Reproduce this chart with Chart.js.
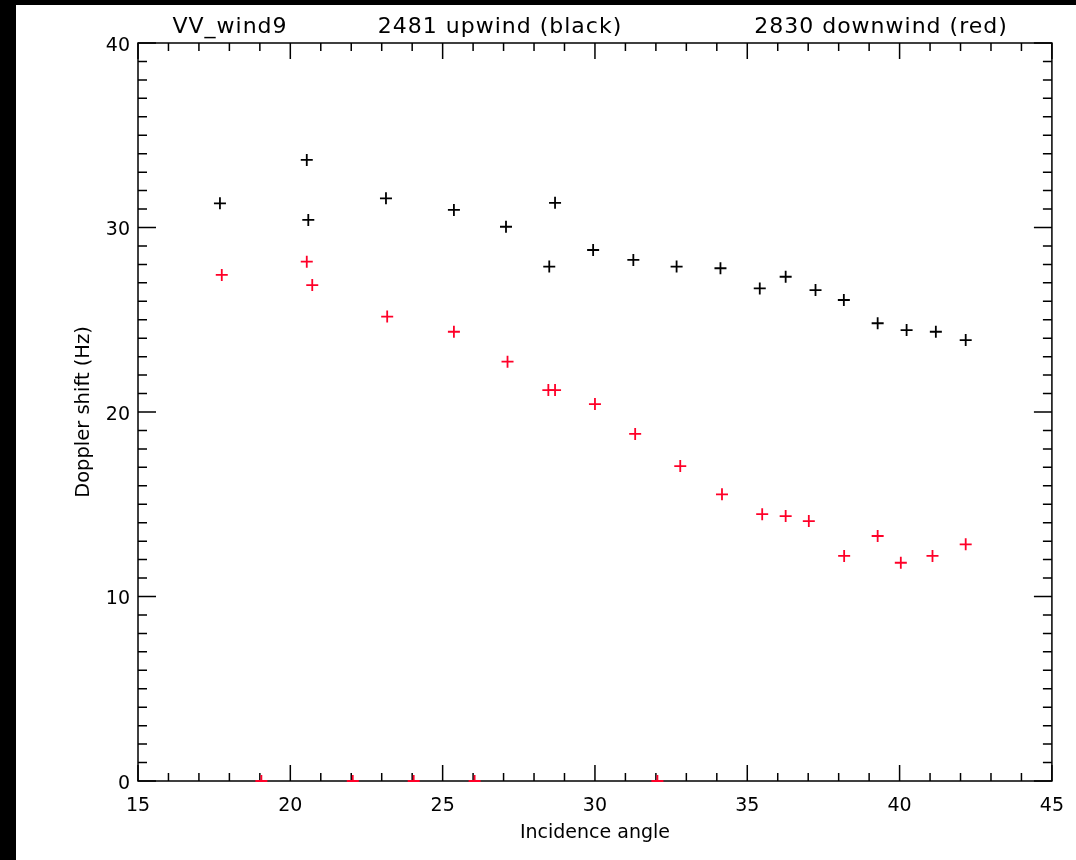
<!DOCTYPE html>
<html>
<head>
<meta charset="utf-8">
<script src="https://cdn.jsdelivr.net/npm/chart.js@4"></script>
<style>
  html, body { margin: 0; padding: 0; background: #000; }
</style>
</head>
<body>
<canvas id="dopplerChart" width="1076" height="860"></canvas>
<script>
// upwind, black crosses
const upwindAngle = [17.69, 20.54, 20.59, 23.14, 25.37, 27.08, 28.69, 28.50, 29.94, 31.26,
                     32.68, 34.12, 35.41, 36.26, 37.24, 38.17, 39.28, 40.23, 41.19, 42.17];
const upwindShift = [31.31, 33.66, 30.41, 31.58, 30.95, 30.04, 31.34, 27.88, 28.78, 28.24,
                     27.88, 27.79, 26.70, 27.33, 26.61, 26.07, 24.81, 24.44, 24.35, 23.90];

// downwind, red crosses (the zeros sit on the x axis)
const downwindAngle = [17.75, 20.54, 20.72, 23.18, 25.37, 27.13, 28.47, 28.69, 30.00, 31.32,
                       32.80, 34.17, 35.49, 36.26, 37.02, 38.18, 39.28, 40.04, 41.08, 42.17,
                       19.05, 22.05, 24.05, 26.05, 32.05];
const downwindShift = [27.43, 28.15, 26.88, 25.17, 24.35, 22.73, 21.19, 21.19, 20.43, 18.81,
                       17.07, 15.54, 14.46, 14.36, 14.09, 12.20, 13.28, 11.83, 12.20, 12.83,
                       0, 0, 0, 0, 0];

const xTicks = [15, 20, 25, 30, 35, 40, 45];
const yTicks = [0, 10, 20, 30, 40];
const titleParts = ['VV_wind9', '2481 upwind (black)', '2830 downwind (red)'];
const titleCenters = [230, 500, 881];

const FONT = 'DejaVu Sans';
const RED = 'rgb(255,0,40)';

function toPoints(xs, ys) {
  return xs.map((v, i) => ({ x: v, y: ys[i] }));
}

// black border, white page, axis box with inward ticks, header line
const framePlugin = {
  id: 'frame',
  beforeDraw(chart) {
    const ctx = chart.ctx;
    ctx.save();
    ctx.fillStyle = '#000';
    ctx.fillRect(0, 0, chart.width, chart.height);
    ctx.fillStyle = '#fff';
    ctx.fillRect(16, 5, chart.width - 16, chart.height - 5);
    ctx.restore();
  },
  beforeDatasetsDraw(chart) {
    const { ctx, chartArea: a, scales: { x, y } } = chart;
    ctx.save();
    ctx.strokeStyle = '#000';
    ctx.lineWidth = 1.5;
    ctx.strokeRect(a.left, a.top, a.right - a.left, a.bottom - a.top);
    ctx.beginPath();
    for (let v = x.min; v <= x.max; v++) {
      const px = x.getPixelForValue(v);
      const len = v % 5 === 0 ? 16 : 8;
      ctx.moveTo(px, a.bottom); ctx.lineTo(px, a.bottom - len);
      ctx.moveTo(px, a.top); ctx.lineTo(px, a.top + len);
    }
    for (let v = y.min; v <= y.max; v++) {
      const py = y.getPixelForValue(v);
      const len = v % 10 === 0 ? 18 : 9;
      ctx.moveTo(a.left, py); ctx.lineTo(a.left + len, py);
      ctx.moveTo(a.right, py); ctx.lineTo(a.right - len, py);
    }
    ctx.stroke();

    ctx.fillStyle = '#000';
    ctx.font = '22px "' + FONT + '"';
    ctx.textAlign = 'center';
    ctx.textBaseline = 'alphabetic';
    ctx.letterSpacing = '1px';
    titleParts.forEach((t, i) => ctx.fillText(t, titleCenters[i], 33));
    ctx.restore();
  }
};

const ctx = document.getElementById('dopplerChart').getContext('2d');
const dopplerChart = new Chart(ctx, {
  type: 'scatter',
  data: {
    datasets: [{
      label: 'upwind',
      data: toPoints(upwindAngle, upwindShift),
      pointStyle: 'cross',
      pointRadius: 6,
      pointBorderWidth: 1.8,
      pointBorderColor: '#000',
      borderColor: '#000',
      clip: { left: 0, top: 0, right: 0, bottom: 1 }
    },
    {
      label: 'downwind',
      data: toPoints(downwindAngle, downwindShift),
      pointStyle: 'cross',
      pointRadius: 6,
      pointBorderWidth: 1.8,
      pointBorderColor: RED,
      borderColor: RED,
      clip: { left: 0, top: 0, right: 0, bottom: 1 }
    }]
  },
  options: {
    responsive: false,
    devicePixelRatio: 1,
    animation: false,
    events: [],
    layout: { padding: { left: 16, top: 43, right: 24, bottom: 0 } },
    plugins: {
      legend: { display: false },
      tooltip: { enabled: false }
    },
    scales: {
      x: {
        type: 'linear',
        min: 15,
        max: 45,
        afterBuildTicks: s => { s.ticks = xTicks.map(v => ({ value: v })); },
        afterFit: s => { s.height = 79; },
        grid: { display: false, drawTicks: false },
        border: { display: false },
        ticks: {
          color: '#000',
          font: { family: FONT, size: 19, lineHeight: 1.4 },
          padding: 12,
          maxRotation: 0,
          autoSkip: false
        },
        title: {
          display: true,
          text: 'Incidence angle',
          color: '#000',
          font: { family: FONT, size: 19 },
          padding: { top: 0, bottom: 16 }
        }
      },
      y: {
        type: 'linear',
        min: 0,
        max: 40,
        afterBuildTicks: s => { s.ticks = yTicks.map(v => ({ value: v })); },
        afterFit: s => { s.width = 122; },
        grid: { display: false, drawTicks: false },
        border: { display: false },
        ticks: {
          color: '#000',
          font: { family: FONT, size: 19 },
          padding: 8,
          autoSkip: false,
          labelOffset: 3
        },
        title: {
          display: true,
          text: 'Doppler shift (Hz)',
          color: '#000',
          font: { family: FONT, size: 19.5 },
          padding: { top: 56, bottom: 0 }
        }
      }
    }
  },
  plugins: [framePlugin]
});
</script>
</body>
</html>
